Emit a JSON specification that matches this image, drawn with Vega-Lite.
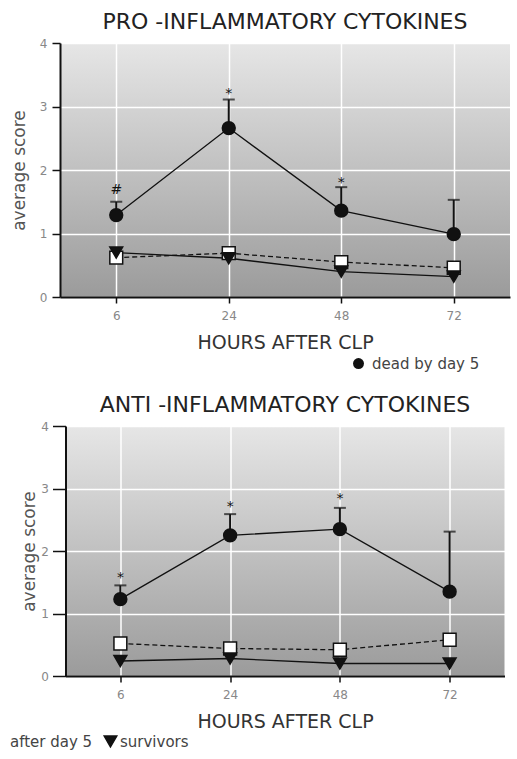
{
  "$schema": "https://vega.github.io/schema/vega-lite/v6.json",
  "background": "white",
  "padding": {"left": 8, "top": 11, "right": 0, "bottom": 0},
  "spacing": 42,
  "center": true,
  "datasets": {
    "scores": [
      {"panel": "pro", "hours": "6", "group": "dead by day 5", "score": 1.29, "upper": 1.50},
      {"panel": "pro", "hours": "24", "group": "dead by day 5", "score": 2.66, "upper": 3.11},
      {"panel": "pro", "hours": "48", "group": "dead by day 5", "score": 1.36, "upper": 1.73},
      {"panel": "pro", "hours": "72", "group": "dead by day 5", "score": 0.99, "upper": 1.53},
      {"panel": "pro", "hours": "6", "group": "dead after day 5", "score": 0.62},
      {"panel": "pro", "hours": "24", "group": "dead after day 5", "score": 0.69},
      {"panel": "pro", "hours": "48", "group": "dead after day 5", "score": 0.55},
      {"panel": "pro", "hours": "72", "group": "dead after day 5", "score": 0.46},
      {"panel": "pro", "hours": "6", "group": "survivors", "score": 0.70},
      {"panel": "pro", "hours": "24", "group": "survivors", "score": 0.61},
      {"panel": "pro", "hours": "48", "group": "survivors", "score": 0.40},
      {"panel": "pro", "hours": "72", "group": "survivors", "score": 0.32},
      {"panel": "anti", "hours": "6", "group": "dead by day 5", "score": 1.23, "upper": 1.45},
      {"panel": "anti", "hours": "24", "group": "dead by day 5", "score": 2.25, "upper": 2.59},
      {"panel": "anti", "hours": "48", "group": "dead by day 5", "score": 2.35, "upper": 2.69},
      {"panel": "anti", "hours": "72", "group": "dead by day 5", "score": 1.35, "upper": 2.31},
      {"panel": "anti", "hours": "6", "group": "dead after day 5", "score": 0.52},
      {"panel": "anti", "hours": "24", "group": "dead after day 5", "score": 0.44},
      {"panel": "anti", "hours": "48", "group": "dead after day 5", "score": 0.42},
      {"panel": "anti", "hours": "72", "group": "dead after day 5", "score": 0.58},
      {"panel": "anti", "hours": "6", "group": "survivors", "score": 0.24},
      {"panel": "anti", "hours": "24", "group": "survivors", "score": 0.28},
      {"panel": "anti", "hours": "48", "group": "survivors", "score": 0.20},
      {"panel": "anti", "hours": "72", "group": "survivors", "score": 0.20}
    ],
    "notes": [
      {"panel": "pro", "hours": "6", "label": "#", "pos": 1.74},
      {"panel": "pro", "hours": "24", "label": "*", "pos": 3.24},
      {"panel": "pro", "hours": "48", "label": "*", "pos": 1.84},
      {"panel": "anti", "hours": "6", "label": "*", "pos": 1.62},
      {"panel": "anti", "hours": "24", "label": "*", "pos": 2.75},
      {"panel": "anti", "hours": "48", "label": "*", "pos": 2.88}
    ]
  },
  "config": {
    "font": "DejaVu Sans",
    "view": {"stroke": null},
    "title": {"fontSize": 22, "fontWeight": "normal", "color": "#222", "offset": 3},
    "axis": {
      "labelColor": "#888",
      "labelFontSize": 12,
      "tickColor": "#111",
      "tickWidth": 1.5,
      "domainColor": "#111",
      "domainWidth": 2,
      "grid": true,
      "gridColor": "white",
      "gridWidth": 1.5,
      "titleFontWeight": "normal"
    },
    "legend": {"labelFont": "DejaVu Sans", "titleFont": "DejaVu Sans"}
  },
  "vconcat": [
    {
      "title": "PRO -INFLAMMATORY CYTOKINES",
      "width": 450,
      "height": 254,
      "view": {
        "stroke": null,
        "fill": {"gradient": "linear", "x1": 0, "y1": 0, "x2": 0, "y2": 1,
          "stops": [{"offset": 0, "color": "#e6e6e6"}, {"offset": 1, "color": "#9b9b9b"}]}
      },
      "encoding": {
        "x": {"field": "hours", "type": "ordinal", "sort": ["6", "24", "48", "72"],
          "scale": {"type": "point", "padding": 0.5},
          "axis": {"title": "HOURS AFTER CLP", "labelAngle": 0, "tickSize": 6, "labelPadding": 7,
            "titleFontSize": 19, "titleColor": "#333", "titlePadding": 12}},
        "y": {"field": "score", "type": "quantitative",
          "scale": {"domain": [0, 4], "nice": false},
          "axis": {"title": "average score", "values": [0, 1, 2, 3, 4], "tickSize": 8, "labelPadding": 5,
            "titleFontSize": 17, "titleColor": "#555", "titlePadding": 7, "titleX": -32}}
      },
      "layer": [
        {
          "data": {"name": "scores"},
          "transform": [{"filter": "datum.panel === 'pro' && datum.group !== 'dead after day 5'"}],
          "mark": {"type": "line", "color": "#111", "strokeWidth": 1.3},
          "encoding": {"detail": {"field": "group"}}
        },
        {
          "data": {"name": "scores"},
          "transform": [{"filter": "datum.panel === 'pro' && datum.group === 'dead after day 5'"}],
          "mark": {"type": "line", "color": "#111", "strokeWidth": 1.3, "strokeDash": [5, 3]},
          "encoding": {}
        },
        {
          "data": {"name": "scores"},
          "transform": [{"filter": "datum.panel === 'pro' && datum.group === 'dead by day 5'"}],
          "mark": {"type": "rule", "color": "#111", "strokeWidth": 2},
          "encoding": {"y2": {"field": "upper"}}
        },
        {
          "data": {"name": "scores"},
          "transform": [{"filter": "datum.panel === 'pro' && datum.group === 'dead by day 5'"}],
          "mark": {"type": "tick", "color": "#111", "size": 12, "thickness": 2},
          "encoding": {"y": {"field": "upper", "type": "quantitative"}}
        },
        {
          "data": {"name": "scores"},
          "transform": [{"filter": "datum.panel === 'pro'"}],
          "mark": {"type": "point", "filled": true, "stroke": "#111", "strokeWidth": 1.5, "size": 165, "opacity": 1},
          "encoding": {
            "fill": {"field": "group", "type": "nominal",
              "scale": {"domain": ["dead by day 5", "dead after day 5", "survivors"], "range": ["#111", "white", "#111"]},
              "legend": {"values": ["dead by day 5", "dead after day 5"],
                "labelExpr": "datum.value === 'dead after day 5' ? '' : datum.value",
                "orient": "none", "legendX": 291, "legendY": 313, "direction": "horizontal", "title": null,
                "labelFontSize": 15, "labelColor": "#444", "symbolSize": 120, "symbolStrokeColor": "#111",
                "symbolStrokeWidth": 1.5, "columnPadding": 25, "labelOffset": 6, "padding": 0,
                "encode": {"symbols": {"update": {"stroke": {"value": "#111"}, "strokeWidth": {"value": 1.5}}}}}},
            "shape": {"field": "group", "type": "nominal",
              "scale": {"domain": ["dead by day 5", "dead after day 5", "survivors"], "range": ["circle", "square", "triangle-down"]},
              "legend": {"values": ["dead by day 5", "dead after day 5"],
                "labelExpr": "datum.value === 'dead after day 5' ? '' : datum.value",
                "orient": "none", "legendX": 291, "legendY": 313, "direction": "horizontal", "title": null,
                "labelFontSize": 15, "labelColor": "#444", "symbolSize": 120, "symbolStrokeColor": "#111",
                "symbolStrokeWidth": 1.5, "columnPadding": 25, "labelOffset": 6, "padding": 0,
                "encode": {"symbols": {"update": {"stroke": {"value": "#111"}, "strokeWidth": {"value": 1.5}}}}}}
          }
        },
        {
          "data": {"name": "notes"},
          "transform": [{"filter": "datum.panel === 'pro'"}],
          "mark": {"type": "text", "fontSize": 14, "color": "#111", "baseline": "middle", "dy": 3},
          "encoding": {
            "y": {"field": "pos", "type": "quantitative"},
            "text": {"field": "label"}
          }
        }
      ]
    },
    {
      "title": "ANTI -INFLAMMATORY CYTOKINES",
      "width": 439,
      "height": 250,
      "view": {
        "stroke": null,
        "fill": {"gradient": "linear", "x1": 0, "y1": 0, "x2": 0, "y2": 1,
          "stops": [{"offset": 0, "color": "#e6e6e6"}, {"offset": 1, "color": "#9b9b9b"}]}
      },
      "encoding": {
        "x": {"field": "hours", "type": "ordinal", "sort": ["6", "24", "48", "72"],
          "scale": {"type": "point", "padding": 0.5},
          "axis": {"title": "HOURS AFTER CLP", "labelAngle": 0, "tickSize": 6, "labelPadding": 7,
            "titleFontSize": 19, "titleColor": "#333", "titlePadding": 12}},
        "y": {"field": "score", "type": "quantitative",
          "scale": {"domain": [0, 4], "nice": false},
          "axis": {"title": "average score", "values": [0, 1, 2, 3, 4], "tickSize": 13, "labelPadding": 4,
            "titleFontSize": 17, "titleColor": "#555", "titlePadding": 3, "titleX": -27, "minExtent": 57}}
      },
      "layer": [
        {
          "data": {"name": "scores"},
          "transform": [{"filter": "datum.panel === 'anti' && datum.group !== 'dead after day 5'"}],
          "mark": {"type": "line", "color": "#111", "strokeWidth": 1.3},
          "encoding": {"detail": {"field": "group"}}
        },
        {
          "data": {"name": "scores"},
          "transform": [{"filter": "datum.panel === 'anti' && datum.group === 'dead after day 5'"}],
          "mark": {"type": "line", "color": "#111", "strokeWidth": 1.3, "strokeDash": [5, 3]},
          "encoding": {}
        },
        {
          "data": {"name": "scores"},
          "transform": [{"filter": "datum.panel === 'anti' && datum.group === 'dead by day 5'"}],
          "mark": {"type": "rule", "color": "#111", "strokeWidth": 2},
          "encoding": {"y2": {"field": "upper"}}
        },
        {
          "data": {"name": "scores"},
          "transform": [{"filter": "datum.panel === 'anti' && datum.group === 'dead by day 5'"}],
          "mark": {"type": "tick", "color": "#111", "size": 12, "thickness": 2},
          "encoding": {"y": {"field": "upper", "type": "quantitative"}}
        },
        {
          "data": {"name": "scores"},
          "transform": [{"filter": "datum.panel === 'anti'"}],
          "mark": {"type": "point", "filled": true, "stroke": "#111", "strokeWidth": 1.5, "opacity": 1},
          "encoding": {
            "fill": {"field": "group", "type": "nominal",
              "scale": {"domain": ["dead by day 5", "dead after day 5", "survivors"], "range": ["#111", "white", "#111"]},
              "legend": null},
            "shape": {"field": "group", "type": "nominal",
              "scale": {"domain": ["dead by day 5", "dead after day 5", "survivors"], "range": ["circle", "square", "triangle-down"]},
              "legend": null},
            "size": {"field": "group", "type": "nominal",
              "scale": {"domain": ["survivors", "dead by day 5", "dead after day 5"], "range": [165, 165, 165]},
              "legend": {"values": ["survivors"],
                "orient": "none", "legendX": -50, "legendY": 691, "direction": "horizontal",
                "title": "after day 5", "titleOrient": "left", "titleAnchor": "middle", "titleBaseline": "middle",
                "titleFontSize": 15, "titleFontWeight": "normal", "titleColor": "#444", "titlePadding": 10,
                "labelFontSize": 15, "labelColor": "#444", "symbolType": "triangle-down", "symbolSize": 110,
                "symbolFillColor": "#111", "symbolStrokeColor": "#111", "symbolStrokeWidth": 1.3,
                "labelOffset": 2, "padding": 0,
                "encode": {"symbols": {"update": {"fill": {"value": "#111"}, "size": {"value": 110}, "shape": {"value": "triangle-down"}}}}}}
          }
        },
        {
          "data": {"name": "notes"},
          "transform": [{"filter": "datum.panel === 'anti'"}],
          "mark": {"type": "text", "fontSize": 14, "color": "#111", "baseline": "middle", "dy": 3},
          "encoding": {
            "y": {"field": "pos", "type": "quantitative"},
            "text": {"field": "label"}
          }
        }
      ]
    }
  ]
}
